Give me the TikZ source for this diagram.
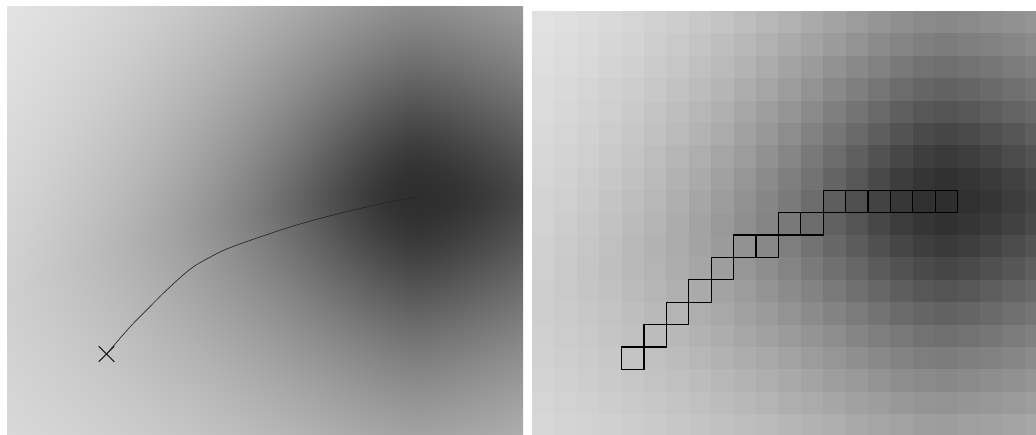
\documentclass[tikz,border=0pt]{standalone}
\usetikzlibrary{shapes.misc}
% smooth field for the left panel (coordinates in bp, y upward; 1 cell = 22.45bp)
\pgfdeclarefunctionalshading{fieldshade}{\pgfpoint{0bp}{0bp}}{\pgfpoint{517bp}{429bp}}{}{
  429 exch sub 22.45 div 8.5 sub
  exch 22.45 div 18.3 sub
  dup dup abs sub dup mul 0.00325 mul
  3 -1 roll exch sub
  abs 0.1053 mul
  0.000001 add 1.45 exp
  exch
  dup abs exch
  dup abs 0.001 add div
  -0.0159 mul 0.0873 add mul
  0.000001 add 1.45 exp
  add 0.689655 exp 1.12 mul
  dup mul 0.1764 add sqrt 0.42 sub
  neg 2.71828 exch exp 0.77 mul 0.05 add
  1 exch sub dup dup
}
\begin{document}
\begin{tikzpicture}[x=1bp,y=-1bp,
  cellbox/.style={draw=black, line width=1.1bp, minimum size=22.4bp, inner sep=0pt, outer sep=0pt},
  xmark/.style={cross out, draw=black, line width=0.9bp, minimum size=14.6bp, inner sep=0pt},
  trajectory/.style={draw=black!85, line width=0.65bp},
  panel/.style={inner sep=0pt, outer sep=0pt}]
\useasboundingbox (0,0) rectangle (1036,435);
\fill[white] (0,0) rectangle (1036,435);
% left panel
\node[panel, anchor=north west] (leftpanel) at (6,6) {\pgfuseshading{fieldshade}};
% right panel (cell-sampled field)
\begin{scope}
\clip (532,11) rectangle (1036,435);
\foreach \c in {0,...,22}{
  \foreach \r in {0,...,18}{
    \pgfmathsetmacro\du{\c+0.5-18.3}
    \pgfmathsetmacro\dv{\r+0.5-8.5}
    \pgfmathsetmacro\bb{\dv-0.00325*(\du-abs(\du))*(\du-abs(\du))}
    \pgfmathsetmacro\qb{abs(\bb)*0.1053+0.001}
    \pgfmathsetmacro\qa{abs(\du)*(0.0873-0.0159*\du/(abs(\du)+0.001))+0.001}
    \pgfmathsetmacro\rr{1.12*(\qa^1.45+\qb^1.45)^0.689655}
    \pgfmathsetmacro\gv{1-(0.05+0.77*exp(-(sqrt(\rr*\rr+0.1764)-0.42)))}
    \definecolor{cellc}{gray}{\gv}
    \fill[cellc] ({532+\c*22.4},{11+\r*22.4}) rectangle ++(22.8,22.8);
  }
}
\end{scope}
% path of cells
\foreach \c/\r [count=\i] in {4/15,5/14,6/13,7/12,8/11,9/10,10/10,11/9,12/9,13/8,14/8,15/8,16/8,17/8,18/8}{
  \node[cellbox] (sq\i) at ({532+(\c+0.5)*22.4},{11+(\r+0.5)*22.4}) {};
}
% trajectory on the left panel
\node[xmark] (start) at (106.5,354) {};
\coordinate (goal) at (418.3,196.7);
\draw[trajectory] plot[smooth, tension=0.6] coordinates {(start.center) (130,327) (148.3,308.3) (166.7,290) (190,269.3) (206.7,259) (226.7,249) (253.3,239.3) (293.3,226) (333.3,215) (380,204) (goal)};
\end{tikzpicture}
\end{document}
